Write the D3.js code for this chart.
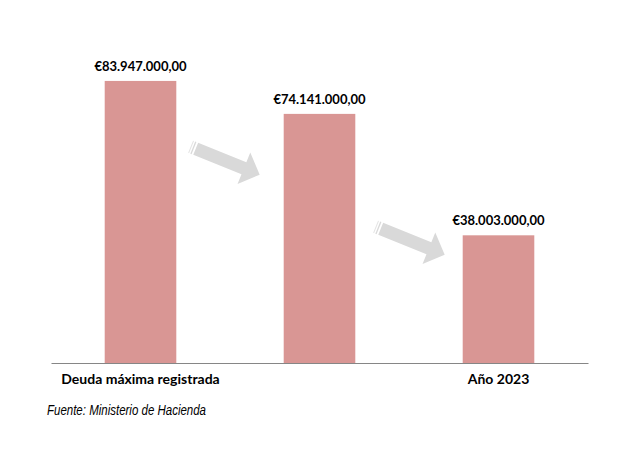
<!DOCTYPE html>
<html>
<head>
<meta charset="utf-8">
<script src="https://cdn.jsdelivr.net/npm/d3@7"></script>
<style>
  body { margin: 0; background: #fff; }
  svg { display: block; }
</style>
</head>
<body>
<div id="chart"></div>
<script>
// data (millions of euros)
var categories = ["Deuda máxima registrada", "", "Año 2023"];
var values = [83.947, 74.141, 38.003];
var valueLabels = ["€83.947.000,00", "€74.141.000,00", "€38.003.000,00"];
var source = "Fuente: Ministerio de Hacienda";

(function debtChart(){
	var width = 642, height = 455;
	var margin = {left: 51, right: 54, baseline: 363};

	var svg = d3.select("#chart")
		.append("svg")
			.attr("width", width)
			.attr("height", height);

	var data = categories.map(function(c, i){
		return {cat: i, name: c, value: values[i], label: valueLabels[i]};
	});

	// x scale: one band per bar
	var xScale = d3.scaleBand()
		.domain(d3.range(categories.length))
		.range([margin.left, width - margin.right])
		.paddingInner(0.6)
		.paddingOuter(0.3);

	// y scale: millions of euros
	var yScale = d3.scaleLinear()
		.domain([0, 100])
		.range([margin.baseline, margin.baseline - 336]);

	// bars
	svg.append("g")
		.selectAll("rect")
		.data(data)
		.enter()
		.append("rect")
			.attr("x", function(d){ return xScale(d.cat); })
			.attr("y", function(d){ return yScale(d.value); })
			.attr("width", xScale.bandwidth())
			.attr("height", function(d){ return yScale(0) - yScale(d.value); })
			.style("fill", "#D99694");

	// value labels
	svg.append("g")
		.selectAll("text")
		.data(data)
		.enter()
		.append("text")
			.attr("x", function(d){ return xScale(d.cat) + xScale.bandwidth() / 2; })
			.attr("y", function(d){ return yScale(d.value) - 10; })
			.attr("text-anchor", "middle")
			.attr("font-family", "Lato, 'Open Sans', sans-serif")
			.attr("font-weight", "bold")
			.attr("font-size", "13px")
			.text(function(d){ return d.label; });

	// x axis
	var xAxis = svg.append("g")
		.attr("transform", "translate(0," + margin.baseline + ")")
		.call(d3.axisBottom(xScale).tickSize(0).tickPadding(11.5)
			.tickFormat(function(i){ return categories[i]; }));
	xAxis.select(".domain")
		.attr("stroke", "#868686")
		.attr("stroke-width", 1.2);
	xAxis.selectAll("text")
		.attr("font-family", "Lato, 'Open Sans', sans-serif")
		.attr("font-weight", "bold")
		.attr("font-size", "14px")
		.attr("fill", "#000");

	// source note (narrow italic)
	svg.append("text")
		.attr("x", 47)
		.attr("y", 414.5)
		.attr("font-family", "'Liberation Sans Narrow', 'Arial Narrow', 'Liberation Sans', sans-serif")
		.attr("font-style", "italic")
		.attr("font-size", "14.5px")
		.attr("textLength", 159)
		.attr("lengthAdjust", "spacingAndGlyphs")
		.text(source);

	// decorative block arrows between bars
	var arrows = [{x: 195.7, y: 148.8}, {x: 380.7, y: 228.8}];
	var arrowShape = [[0, -6.5], [52, -6.5], [52, -17], [69, 0], [52, 17], [52, 6.5], [0, 6.5]];

	var ag = svg.append("g")
		.selectAll("g")
		.data(arrows)
		.enter()
		.append("g")
			.attr("transform", function(d){ return "translate(" + d.x + "," + d.y + ") rotate(22)"; });

	ag.append("path")
		.attr("d", d3.line()(arrowShape) + "Z")
		.style("fill", "#D9D9D9");

	ag.append("line")
		.attr("x1", -2.5).attr("x2", -2.5)
		.attr("y1", -6.5).attr("y2", 6.5)
		.style("stroke", "#D9D9D9")
		.style("stroke-width", 1.3);

	ag.append("line")
		.attr("x1", -5).attr("x2", -5)
		.attr("y1", -6.5).attr("y2", 6.5)
		.style("stroke", "#E4E4E4")
		.style("stroke-width", 1);
}())
</script>
</body>
</html>
